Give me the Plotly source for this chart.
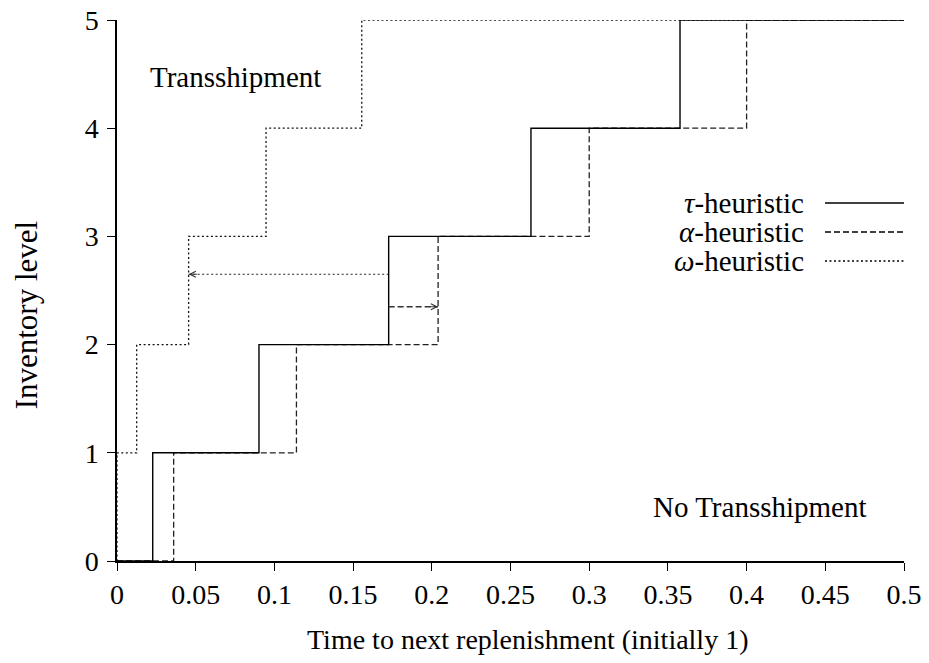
import plotly.graph_objects as go

# Step data (time to next replenishment vs inventory level)
tau_x = [0, 0.0227, 0.0902, 0.1726, 0.263, 0.3577, 0.5]
tau_y = [0, 1, 2, 3, 4, 5, 5]
alpha_x = [0, 0.036, 0.114, 0.204, 0.300, 0.400, 0.5]
alpha_y = [0, 1, 2, 3, 4, 5, 5]
omega_x = [0, 0, 0.0125, 0.0455, 0.0947, 0.1555, 0.5]
omega_y = [0, 1, 2, 3, 4, 5, 5]

# arrows: x from -> x to, at level y
arrow_omega_x = [0.1726, 0.0455]
arrow_omega_y = [2.65, 2.65]
arrow_alpha_x = [0.1726, 0.204]
arrow_alpha_y = [2.35, 2.35]

x_ticks = [0, 0.05, 0.1, 0.15, 0.2, 0.25, 0.3, 0.35, 0.4, 0.45, 0.5]
x_tick_labels = ["0", "0.05", "0.1", "0.15", "0.2", "0.25", "0.3", "0.35", "0.4", "0.45", "0.5"]
y_ticks = [0, 1, 2, 3, 4, 5]

FONT = "Liberation Serif, Times New Roman, serif"
DASHED = "6px,3px"
DOTTED = "2px,2.5px"

fig = go.Figure()
fig.add_trace(go.Scatter(x=omega_x, y=omega_y, mode="lines", line_shape="hv",
                         line=dict(color="#111", width=1.3, dash=DOTTED), name="omega"))
fig.add_trace(go.Scatter(x=alpha_x, y=alpha_y, mode="lines", line_shape="hv",
                         line=dict(color="#222", width=1.3, dash=DASHED), name="alpha"))
fig.add_trace(go.Scatter(x=tau_x, y=tau_y, mode="lines", line_shape="hv",
                         line=dict(color="black", width=1.4), name="tau"))

# arrow shafts
fig.add_trace(go.Scatter(x=arrow_omega_x, y=arrow_omega_y, mode="lines",
                         line=dict(color="#222", width=1.2, dash=DOTTED)))
fig.add_trace(go.Scatter(x=arrow_alpha_x, y=arrow_alpha_y, mode="lines",
                         line=dict(color="#333", width=1.4, dash=DASHED)))
# arrow heads (open chevrons)
fig.add_annotation(x=arrow_omega_x[1], y=arrow_omega_y[1], ax=10, ay=0,
                   xref="x", yref="y", showarrow=True,
                   arrowhead=5, arrowsize=1.3, arrowwidth=0.9, arrowcolor="#333", text="")
fig.add_annotation(x=arrow_alpha_x[1], y=arrow_alpha_y[1], ax=-10, ay=0,
                   xref="x", yref="y", showarrow=True,
                   arrowhead=5, arrowsize=1.3, arrowwidth=0.9, arrowcolor="#333", text="")

# region labels
fig.add_annotation(x=0.075, y=4.47, text="Transshipment", showarrow=False,
                   font=dict(family=FONT, size=29, color="black"))
fig.add_annotation(x=0.4085, y=0.5, text="No Transshipment", showarrow=False,
                   font=dict(family=FONT, size=29, color="black"))

# custom legend (text right, sample line right)
legend_names = ["<i>τ</i>-heuristic", "<i>α</i>-heuristic", "<i>ω</i>-heuristic"]
legend_dash = ["solid", DASHED, DOTTED]
legend_y = [0.6617, 0.6081, 0.5545]
for name, dash, ly in zip(legend_names, legend_dash, legend_y):
    fig.add_annotation(x=0.8755, y=ly, xref="paper", yref="paper", text=name,
                       showarrow=False, xanchor="right", yanchor="middle",
                       font=dict(family=FONT, size=29, color="black"))
    fig.add_shape(type="line", xref="paper", yref="paper", x0=0.8996, x1=1.0, y0=ly, y1=ly,
                  line=dict(color="black", width=1.3, dash=dash))

# axis titles
fig.add_annotation(x=0.521, y=-0.146, xref="paper", yref="paper",
                   text="Time to next replenishment (initially 1)", showarrow=False,
                   xanchor="center", yanchor="middle",
                   font=dict(family=FONT, size=28, color="black"))
fig.add_annotation(x=-0.115, y=0.455, xref="paper", yref="paper",
                   text="Inventory level", showarrow=False, textangle=-90,
                   xanchor="center", yanchor="middle",
                   font=dict(family=FONT, size=31, color="black"))

fig.update_layout(
    width=929, height=663,
    margin=dict(l=117, r=25, t=20, b=102),
    paper_bgcolor="white", plot_bgcolor="white",
    showlegend=False,
    font=dict(family=FONT, size=28, color="black"),
)
fig.update_xaxes(range=[0, 0.5], tickvals=x_ticks, ticktext=x_tick_labels, automargin=False,
                 showgrid=False, zeroline=False, showline=True, linecolor="black", linewidth=1.5,
                 ticks="outside", ticklen=8, tickcolor="black", tickwidth=1.2,
                 tickfont=dict(family=FONT, size=28))
fig.update_yaxes(range=[0, 5], tickvals=y_ticks, automargin=False,
                 showgrid=False, zeroline=False, showline=True, linecolor="black", linewidth=1.5,
                 ticks="outside", ticklen=8, tickcolor="black", tickwidth=1.2,
                 ticklabelstandoff=3,
                 tickfont=dict(family=FONT, size=28))

fig.write_html("out.html", config={"displayModeBar": False},
               post_script="document.body.style.margin='0px';document.body.style.overflow='hidden';")
